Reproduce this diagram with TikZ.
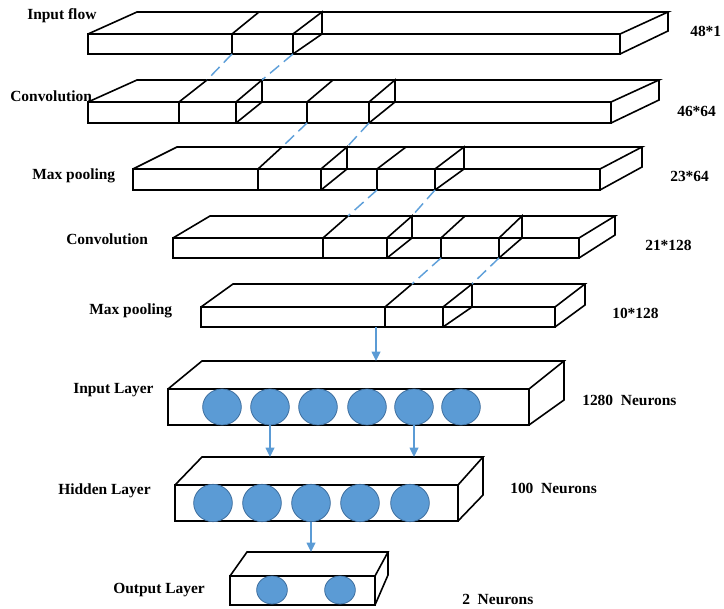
\documentclass[tikz,border=0pt]{standalone}
\usepackage{fontspec}
\setmainfont{Liberation Serif}
\usetikzlibrary{shapes.geometric,arrows.meta}
\definecolor{nblue}{HTML}{5B9BD5}
\definecolor{nedge}{HTML}{3E6E9E}
\definecolor{dblue}{HTML}{5FA0DA}
\tikzset{
  box/.style={draw=black,line width=1.2pt,line join=miter},
  lbl/.style={anchor=base west,inner sep=0pt,font=\fontsize{11.6}{13}\selectfont\bfseries},
  dashlink/.style={draw=dblue,line width=1.1pt,dash pattern=on 9pt off 4.5pt},
  flowarrow/.style={draw=nblue,line width=1.1pt,-{Triangle[width=6.5pt,length=7pt]}},
  neuron/.style={ellipse,draw=nedge,fill=nblue,line width=0.6pt,inner sep=0pt}
}
% slab: front-left x, front-right x, front top y, front bottom y, back-left x, back-right x, back top y, back-right bottom y
\newcommand{\slab}[8]{%
  \draw[box] (#1,#3) rectangle (#2,#4);
  \draw[box] (#1,#3) -- (#5,#7) -- (#6,#7) -- (#2,#3);
  \draw[box] (#6,#7) -- (#6,#8) -- (#2,#4);}
% slice: front x, back x, front top y, front bottom y, back top y
\newcommand{\cut}[5]{%
  \draw[box] (#1,#4) -- (#1,#3) -- (#2,#5);}
% window: like slice plus its side face
\newcommand{\win}[5]{%
  \draw[box] (#1,#4) -- (#1,#3) -- (#2,#5) -- (#2,#3);
  \draw[box] (#1,#4) -- (#2,#3);}
\begin{document}
\begin{tikzpicture}[x=0.75pt,y=-0.75pt]
\useasboundingbox (0,0) rectangle (724,609);
% ---- layer 1: input flow
\slab{88}{620}{34}{54}{137}{668}{12}{31}
\cut{232}{259}{34}{54}{12}
\win{293}{322}{34}{54}{12}
\coordinate (a1) at (232,54);
\coordinate (a2) at (293,54);
\node[lbl] (t1) at (27,20) {Input flow};
\node[lbl] (n1) at (690,37) {48*1};
% ---- layer 2: convolution
\slab{88}{611}{102}{123}{137}{659}{80}{100}
\cut{179}{207}{102}{123}{80}
\win{236}{262}{102}{123}{80}
\cut{307}{333}{102}{123}{80}
\win{369}{395}{102}{123}{80}
\coordinate (b1) at (207,80);
\coordinate (b2) at (262,80);
\coordinate (b3) at (307,123);
\coordinate (b4) at (369,123);
\node[lbl] (t2) at (10,102) {Convolution};
\node[lbl] (n2) at (677,117) {46*64};
% ---- layer 3: max pooling
\slab{133}{600}{169}{190}{177}{642}{147}{167}
\cut{258}{282}{169}{190}{147}
\win{321}{347}{169}{190}{147}
\cut{377}{406}{169}{190}{147}
\win{435}{464}{169}{190}{147}
\coordinate (c1) at (282,147);
\coordinate (c2) at (347,147);
\coordinate (c3) at (377,190);
\coordinate (c4) at (435,190);
\node[lbl] (t3) at (32,180) {Max pooling};
\node[lbl] (n3) at (670,182) {23*64};
% ---- layer 4: convolution
\slab{173}{579}{238}{258}{210}{615}{216}{235}
\cut{323}{348}{238}{258}{216}
\win{387}{412}{238}{258}{216}
\cut{441}{465}{238}{258}{216}
\win{499}{522}{238}{258}{216}
\coordinate (d1) at (348,216);
\coordinate (d2) at (412,216);
\coordinate (d3) at (441,258);
\coordinate (d4) at (499,258);
\node[lbl] (t4) at (66,245) {Convolution};
\node[lbl] (n4) at (645,251) {21*128};
% ---- layer 5: max pooling
\slab{201}{555}{307}{327}{233}{585}{284}{305}
\cut{385}{412}{307}{327}{284}
\win{443}{472}{307}{327}{284}
\coordinate (e1) at (412,284);
\coordinate (e2) at (472,284);
\coordinate (e3) at (376,327);
\node[lbl] (t5) at (89,315) {Max pooling};
\node[lbl] (n5) at (612,319) {10*128};
% ---- dashed links
\draw[dashlink] (a1) -- (b1);
\draw[dashlink] (a2) -- (b2);
\draw[dashlink] (b3) -- (c1);
\draw[dashlink] (b4) -- (c2);
\draw[dashlink] (c3) -- (d1);
\draw[dashlink] (c4) -- (d2);
\draw[dashlink] (d3) -- (e1);
\draw[dashlink] (d4) -- (e2);
% ---- input layer
\slab{168}{529}{389}{425}{202}{564}{361}{400}
\coordinate (f0) at (376,361);
\foreach \i/\x in {1/222,2/270,3/318,4/367,5/414,6/461}
  \node[neuron,minimum width=29pt,minimum height=27pt] (i\i) at (\x,407) {};
\node[lbl] (t6) at (73,393) {Input Layer};
\node[lbl] (n6) at (582,405) {1280\ \ Neurons};
\draw[flowarrow] (e3) -- (f0);
% ---- hidden layer
\slab{175}{458}{485}{521}{202}{483}{457}{495}
\coordinate (g1) at (270,457);
\coordinate (g2) at (414,457);
\foreach \i/\x in {1/213,2/262,3/311,4/360,5/410}
  \node[neuron,minimum width=29pt,minimum height=28pt] (h\i) at (\x,503) {};
\node[lbl] (t7) at (58,494) {Hidden Layer};
\node[lbl] (n7) at (510,493) {100\ \ Neurons};
\draw[flowarrow] (i2.south) -- (g1);
\draw[flowarrow] (i5.south) -- (g2);
% ---- output layer
\slab{230}{375}{576}{605}{247}{388}{552}{575}
\coordinate (o0) at (311,552);
\foreach \i/\x in {1/272,2/340}
  \node[neuron,minimum width=23pt,minimum height=21pt] (o\i) at (\x,590) {};
\node[lbl] (t8) at (113,593) {Output Layer};
\node[lbl] (n8) at (462,604) {2\ \ Neurons};
\draw[flowarrow] (h3.south) -- (o0);
\end{tikzpicture}
\end{document}
